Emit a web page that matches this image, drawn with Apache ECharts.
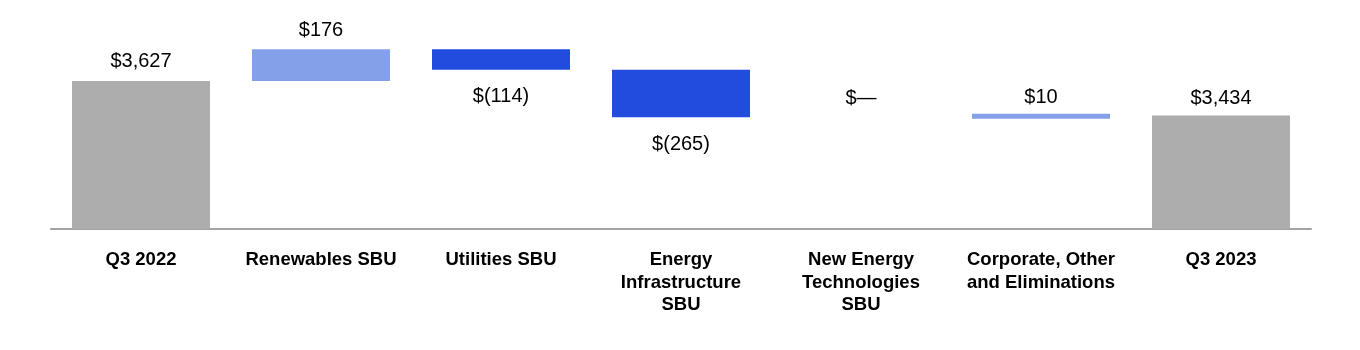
<!DOCTYPE html>
<html>
<head>
<meta charset="utf-8">
<style>
  html, body { margin: 0; padding: 0; background: #ffffff; }
  #chart { width: 1360px; height: 350px; }
</style>
<script src="https://cdn.jsdelivr.net/npm/echarts@6/dist/echarts.min.js"></script>
</head>
<body>
<div id="chart"></div>
<script>
// ---- data ----
const categories = [
  'Q3 2022',
  'Renewables SBU',
  'Utilities SBU',
  'Energy\nInfrastructure\nSBU',
  'New Energy\nTechnologies\nSBU',
  'Corporate, Other\nand Eliminations',
  'Q3 2023'
];
const startValue = 3627;
const deltas = [176, -114, -265, 0, 10];
const endValue = 3434;
const valueLabels = ['$3,627', '$176', '$(114)', '$(265)', '$\u2014', '$10', '$3,434'];

// ---- build waterfall ----
const COLOR_TOTAL = '#adadad';
const COLOR_UP = '#84a0e8';
const COLOR_DOWN = '#224cdd';
const BAR_W = 138;
const MIN_THICK = 5;

const baseData = [0];
const barData = [{ value: startValue, itemStyle: { color: COLOR_TOTAL }, label: { position: 'top', distance: 9 } }];
const thinData = []; // small non-zero steps drawn with a minimum visible thickness
let level = startValue;
deltas.forEach(function (d, i) {
  const lo = d >= 0 ? level : level + d;
  baseData.push(lo);
  const item = {
    value: Math.abs(d),
    itemStyle: { color: d >= 0 ? COLOR_UP : COLOR_DOWN },
    label: d >= 0 ? { position: 'top', distance: 9 } : { position: 'bottom', distance: 17 }
  };
  if (d !== 0 && Math.abs(d) < 30) {
    thinData.push({ value: [i + 1, lo, lo + Math.abs(d)], itemStyle: { color: item.itemStyle.color } });
    item.label.distance = 8;
  }
  barData.push(item);
  level += d;
});
baseData.push(0);
barData.push({ value: endValue, itemStyle: { color: COLOR_TOTAL }, label: { position: 'top', distance: 7 } });

const FONT = '"Liberation Sans", Arial, Helvetica, sans-serif';

const chart = echarts.init(document.getElementById('chart'), null, { renderer: 'canvas' });
chart.setOption({
  animation: false,
  backgroundColor: '#ffffff',
  grid: { left: 51, right: 49, top: 32, bottom: 121, containLabel: false },
  xAxis: {
    type: 'category',
    data: categories,
    axisLine: { show: true, lineStyle: { color: '#a3a3a3', width: 2 } },
    axisTick: { show: false },
    axisLabel: {
      interval: 0,
      margin: 20,
      color: '#000000',
      fontFamily: FONT,
      fontWeight: 'bold',
      fontSize: 18.5,
      lineHeight: 22.5,
      align: 'center'
    }
  },
  yAxis: {
    type: 'value',
    min: 2800,
    max: 3900,
    show: false,
    splitLine: { show: false }
  },
  series: [
    {
      type: 'bar',
      stack: 'wf',
      data: baseData,
      barWidth: BAR_W,
      silent: true,
      itemStyle: { color: 'transparent' },
      label: { show: false }
    },
    {
      type: 'bar',
      stack: 'wf',
      data: barData,
      barWidth: BAR_W,
      label: {
        show: true,
        color: '#000000',
        fontFamily: FONT,
        fontSize: 20,
        formatter: function (p) { return valueLabels[p.dataIndex]; }
      }
    },
    {
      type: 'custom',
      data: thinData,
      encode: { x: 0, y: [1, 2] },
      silent: true,
      renderItem: function (params, api) {
        const c = api.value(0);
        const pLo = api.coord([c, api.value(1)]);
        const pHi = api.coord([c, api.value(2)]);
        const mid = (pLo[1] + pHi[1]) / 2;
        const h = Math.max(MIN_THICK, Math.abs(pLo[1] - pHi[1]));
        return {
          type: 'rect',
          shape: { x: pLo[0] - BAR_W / 2, y: mid - h / 2, width: BAR_W, height: h },
          style: { fill: api.visual('color') }
        };
      }
    }
  ]
});
</script>
</body>
</html>
